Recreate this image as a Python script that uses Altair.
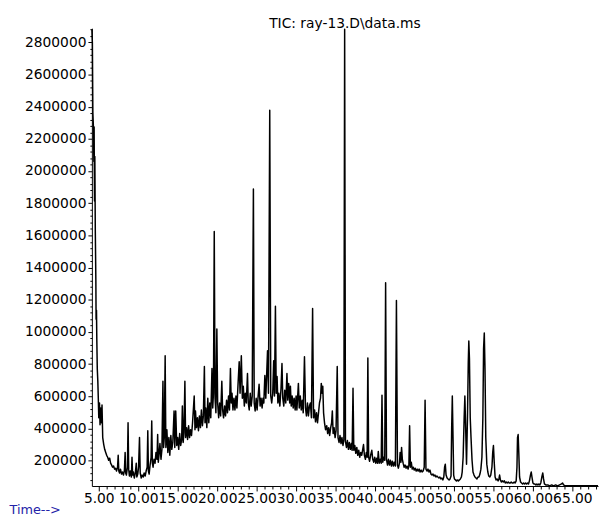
import altair as alt
import pandas as pd

# (time [min], abundance [thousands])
seg1 = [(4.13, 2880), (4.19, 2796), (4.25, 2366), (4.31, 2287), (4.38, 2060), (4.41, 2274),
        (4.46, 1814), (4.50, 2090), (4.56, 1631), (4.63, 1324), (4.66, 1079), (4.71, 1134),
        (4.75, 956), (4.81, 772), (4.88, 693), (4.94, 588), (5.00, 466), (5.09, 558),
        (5.16, 423), (5.25, 527), (5.34, 435), (5.41, 546), (5.50, 343), (5.63, 300),
        (5.75, 270), (5.88, 251), (6.00, 233), (6.13, 221), (6.25, 202), (6.38, 215),
        (6.50, 184), (6.63, 172), (6.75, 159), (6.88, 166), (7.00, 147), (7.13, 153),
        (7.25, 135), (7.38, 159), (7.46, 233), (7.54, 135)]
seg2 = [(7.63, 123), (7.75, 147), (7.88, 116), (8.00, 129), (8.13, 110), (8.25, 141),
        (8.34, 251), (8.41, 123), (8.50, 110), (8.63, 159), (8.71, 435), (8.79, 147),
        (8.88, 104), (9.00, 135), (9.13, 98), (9.21, 221), (9.29, 110), (9.38, 129),
        (9.50, 92), (9.63, 123), (9.75, 184), (9.82, 98), (9.94, 116), (10.04, 159),
        (10.16, 343), (10.25, 123), (10.38, 92), (10.50, 110), (10.63, 98), (10.75, 123),
        (10.88, 104), (11.00, 135), (11.13, 159), (11.21, 386), (11.29, 135), (11.38, 116),
        (11.50, 172), (11.63, 221), (11.71, 447), (11.79, 184), (11.88, 159), (12.00, 208),
        (12.13, 184), (12.25, 251), (12.38, 208), (12.46, 362), (12.54, 190)]
seg3 = [(12.63, 233), (12.75, 306), (12.88, 208), (13.00, 270), (13.13, 693), (13.21, 282),
        (13.30, 343), (13.41, 852), (13.50, 282), (13.63, 392), (13.75, 251), (13.88, 343),
        (14.00, 233), (14.13, 356), (14.25, 270), (14.38, 313), (14.54, 509), (14.63, 282),
        (14.75, 509), (14.88, 294), (15.00, 343), (15.13, 270), (15.25, 368), (15.38, 294),
        (15.50, 331), (15.59, 539), (15.69, 313), (15.79, 374), (15.91, 693), (16.00, 343),
        (16.13, 405), (16.25, 331), (16.38, 417), (16.50, 343), (16.63, 392), (16.75, 356),
        (16.88, 435), (17.09, 601), (17.19, 392), (17.25, 509), (17.38, 405), (17.50, 466)]
seg4 = [(17.63, 386), (17.75, 478), (17.88, 405), (18.00, 515), (18.13, 417), (18.25, 478),
        (18.38, 785), (18.46, 435), (18.56, 527), (18.69, 405), (18.81, 588), (18.94, 435),
        (19.06, 558), (19.19, 466), (19.34, 772), (19.44, 527), (19.53, 619), (19.63, 1624),
        (19.73, 588), (19.84, 497), (19.96, 1018), (20.06, 558), (20.19, 466), (20.31, 558),
        (20.44, 478), (20.59, 693), (20.69, 515), (20.81, 466), (20.94, 539), (21.06, 478),
        (21.19, 576), (21.31, 497), (21.44, 601), (21.56, 515), (21.68, 772), (21.78, 558),
        (21.88, 619), (22.00, 515), (22.13, 588), (22.25, 515), (22.38, 601), (22.50, 527)]
seg5 = [(22.63, 662), (22.79, 815), (22.90, 619), (23.06, 852), (23.19, 588), (23.31, 662),
        (23.44, 539), (23.56, 619), (23.69, 558), (23.84, 742), (23.94, 558), (24.06, 515),
        (24.19, 619), (24.31, 539), (24.44, 601), (24.59, 1888), (24.69, 558), (24.81, 509),
        (24.94, 588), (25.06, 515), (25.19, 601), (25.31, 674), (25.44, 539), (25.56, 588),
        (25.69, 527), (25.81, 588), (25.91, 558), (26.04, 729), (26.16, 588), (26.38, 883),
        (26.50, 619), (26.66, 2378), (26.79, 601), (26.91, 558), (27.04, 619), (27.16, 821),
        (27.26, 601), (27.38, 1159), (27.48, 619), (27.59, 723)]
seg6 = [(27.69, 558), (27.81, 619), (27.94, 539), (28.09, 650), (28.21, 803), (28.31, 588),
        (28.44, 539), (28.56, 637), (28.69, 558), (28.84, 742), (28.94, 576), (29.06, 680),
        (29.19, 558), (29.28, 662), (29.38, 539), (29.50, 601), (29.63, 527), (29.75, 588),
        (29.88, 515), (30.00, 601), (30.10, 515), (30.29, 680), (30.40, 527), (30.53, 601),
        (30.65, 515), (30.78, 576), (30.90, 497), (31.06, 846), (31.19, 527), (31.31, 478),
        (31.44, 558), (31.56, 478), (31.69, 539), (31.81, 558), (31.94, 466), (32.09, 1146),
        (32.21, 466), (32.34, 515), (32.46, 441), (32.59, 497)]
seg7 = [(32.71, 435), (32.84, 497), (32.96, 558), (33.09, 588), (33.19, 680), (33.29, 619),
        (33.38, 662), (33.48, 497), (33.60, 435), (33.73, 392), (33.88, 417), (34.00, 368),
        (34.13, 405), (34.25, 356), (34.38, 405), (34.50, 435), (34.59, 509), (34.69, 368),
        (34.81, 405), (34.94, 343), (35.06, 386), (35.21, 785), (35.31, 343), (35.44, 313),
        (35.56, 356), (35.69, 306), (35.81, 343), (35.94, 294), (36.05, 331), (36.15, 2881),
        (36.25, 319), (36.38, 282), (36.50, 325), (36.63, 270), (36.75, 313), (36.88, 270),
        (37.00, 306), (37.10, 264), (37.21, 650), (37.31, 264), (37.44, 294), (37.56, 245)]
seg8 = [(37.69, 282), (37.81, 233), (37.94, 264), (38.06, 221), (38.19, 251), (38.31, 233),
        (38.44, 270), (38.54, 300), (38.65, 233), (38.78, 208), (38.90, 251), (39.00, 221),
        (39.09, 838), (39.19, 221), (39.31, 196), (39.44, 233), (39.59, 264), (39.71, 208),
        (39.84, 190), (39.96, 221), (40.09, 184), (40.21, 215), (40.31, 184), (40.41, 257),
        (40.53, 184), (40.65, 208), (40.78, 184), (40.88, 607), (40.98, 190), (41.10, 221),
        (41.23, 202), (41.34, 1306), (41.45, 208), (41.58, 172), (41.70, 208), (41.83, 172),
        (41.95, 202), (42.08, 166), (42.20, 196), (42.33, 166), (42.45, 190), (42.58, 166)]
seg9 = [(42.71, 1195), (42.84, 172), (42.96, 153), (43.09, 184), (43.18, 251), (43.28, 190),
        (43.36, 282), (43.46, 208), (43.56, 184), (43.69, 159), (43.81, 172), (43.94, 153),
        (44.06, 166), (44.19, 147), (44.29, 172), (44.38, 417), (44.48, 159), (44.59, 190),
        (44.71, 147), (44.84, 159), (44.96, 141), (45.09, 153), (45.21, 135), (45.34, 147),
        (45.46, 135), (45.59, 147), (45.71, 129), (45.84, 141), (45.96, 129), (46.09, 135),
        (46.23, 159), (46.34, 576), (46.45, 147), (46.59, 135), (46.71, 147), (46.84, 129),
        (46.96, 141), (47.09, 116), (47.21, 110), (47.34, 116), (47.46, 104), (47.59, 110),
        (47.71, 98), (47.84, 104), (47.96, 98), (48.09, 92), (48.21, 98), (48.34, 86),
        (48.46, 92), (48.59, 80), (48.71, 98)]
seg10 = [(48.81, 159), (48.90, 178), (49.00, 110), (49.13, 92), (49.25, 86), (49.38, 80),
         (49.50, 86), (49.63, 104), (49.71, 405), (49.79, 601), (49.88, 343), (49.96, 110),
         (50.06, 86), (50.19, 80), (50.31, 74), (50.44, 80), (50.56, 74), (50.69, 80),
         (50.81, 86), (50.94, 98), (51.04, 129), (51.16, 221), (51.29, 466), (51.38, 601),
         (51.48, 405), (51.59, 178), (51.71, 466), (51.81, 803), (51.88, 944), (51.96, 834),
         (52.06, 466), (52.16, 343), (52.29, 202), (52.41, 129), (52.54, 110), (52.66, 98),
         (52.79, 92), (52.91, 86), (53.04, 98), (53.16, 98), (53.29, 116), (53.41, 147),
         (53.54, 221), (53.66, 466), (53.75, 895), (53.84, 993), (53.93, 772), (54.03, 343),
         (54.16, 178), (54.29, 129), (54.41, 104), (54.54, 98), (54.66, 110), (54.81, 159),
         (54.91, 251), (55.00, 294), (55.10, 190)]
seg11 = [(55.21, 98), (55.34, 80), (55.46, 86), (55.59, 74), (55.69, 86), (55.78, 110),
         (55.88, 80), (56.00, 67), (56.13, 74), (56.25, 67), (56.38, 74), (56.50, 61),
         (56.63, 67), (56.75, 61), (56.88, 67), (57.00, 61), (57.13, 61), (57.25, 67),
         (57.38, 61), (57.50, 61), (57.63, 67), (57.75, 61), (57.88, 74), (57.98, 159),
         (58.05, 343), (58.13, 362), (58.21, 251), (58.31, 98), (58.44, 67), (58.56, 61),
         (58.69, 55), (58.81, 61), (58.94, 55), (59.06, 61), (59.19, 55), (59.31, 61),
         (59.44, 55), (59.56, 74), (59.69, 110), (59.79, 129), (59.88, 98), (60.00, 61),
         (60.13, 55), (60.25, 55), (60.38, 49), (60.50, 55), (60.63, 49), (60.75, 55),
         (60.88, 49), (61.00, 61), (61.13, 98), (61.25, 123), (61.35, 86), (61.46, 55),
         (61.63, 49), (61.88, 49), (62.13, 43), (62.38, 49), (62.63, 43), (62.88, 49),
         (63.13, 43), (63.38, 49), (63.63, 55), (63.75, 61), (63.88, 49), (64.13, 43),
         (64.38, 43), (64.75, 43), (65.00, 44), (65.50, 43), (66.00, 44), (66.50, 43),
         (67.00, 43), (67.50, 44), (68.00, 43), (68.25, 43)]

segments = [seg1, seg2, seg3, seg4, seg5, seg6, seg7, seg8, seg9, seg10, seg11]
rows = [p for s in segments for p in s]
df = pd.DataFrame({"time": [p[0] for p in rows],
                   "abundance": [p[1] * 1000 for p in rows]})
df["order"] = range(len(df))

x_ticks = list(range(5, 69))
y_ticks = list(range(80000, 2888000, 40000))
title_text = "TIC: ray-13.D\\data.ms"

FONT = "DejaVu Sans"

x_axis = alt.Axis(
    values=x_ticks,
    labelExpr="datum.value % 5 === 0 ? format(datum.value, '.2f') : ''",
    tickSize={"condition": {"test": "datum.value % 5 === 0", "value": 5}, "value": 3},
    grid=False, labelOverlap=False, labelFlush=False,
    labelFont=FONT, labelFontSize=14, labelColor="#000000", labelPadding=1,
    domainColor="#000000", tickColor="#000000", domainWidth=1, tickWidth=1,
    title="Time-->", titleFont=FONT, titleFontSize=13, titleFontWeight="normal",
    titleColor="#2323a8", titleX=-84, titleY=28, titleAlign="left",
    titleBaseline="alphabetic", titleAngle=0,
)
y_axis = alt.Axis(
    values=y_ticks,
    labelExpr="datum.value % 200000 === 0 ? format(datum.value, 'd') : ''",
    tickSize={"condition": {"test": "datum.value % 200000 === 0", "value": 4}, "value": 2},
    grid=False, labelOverlap=False, labelFlush=False,
    labelFont=FONT, labelFontSize=14, labelColor="#000000", labelPadding=2,
    domainColor="#000000", tickColor="#000000", domainWidth=1, tickWidth=1,
    title=None,
)

line = alt.Chart(df).mark_line(color="#000000", strokeWidth=1.5, strokeJoin="round").encode(
    x=alt.X("time:Q", scale=alt.Scale(domain=[4.125, 68.25], nice=False, zero=False), axis=x_axis),
    y=alt.Y("abundance:Q", scale=alt.Scale(domain=[42000, 2888000], nice=False, zero=False), axis=y_axis),
    order="order:Q",
)

title_df = pd.DataFrame({"label": [title_text]})
title = alt.Chart(title_df).mark_text(
    font=FONT, fontSize=14, color="#000000", align="center", baseline="alphabetic"
).encode(
    text="label:N",
    x=alt.value(256.5),
    y=alt.value(0),
)

chart = alt.layer(line, title).properties(
    width=513, height=464,
    padding={"left": 85, "top": 17, "right": 2, "bottom": 34},
    autosize=alt.AutoSizeParams(type="none"),
).configure_view(stroke=None)

chart.save("out.html", embed_options={"renderer": "svg", "actions": False})
